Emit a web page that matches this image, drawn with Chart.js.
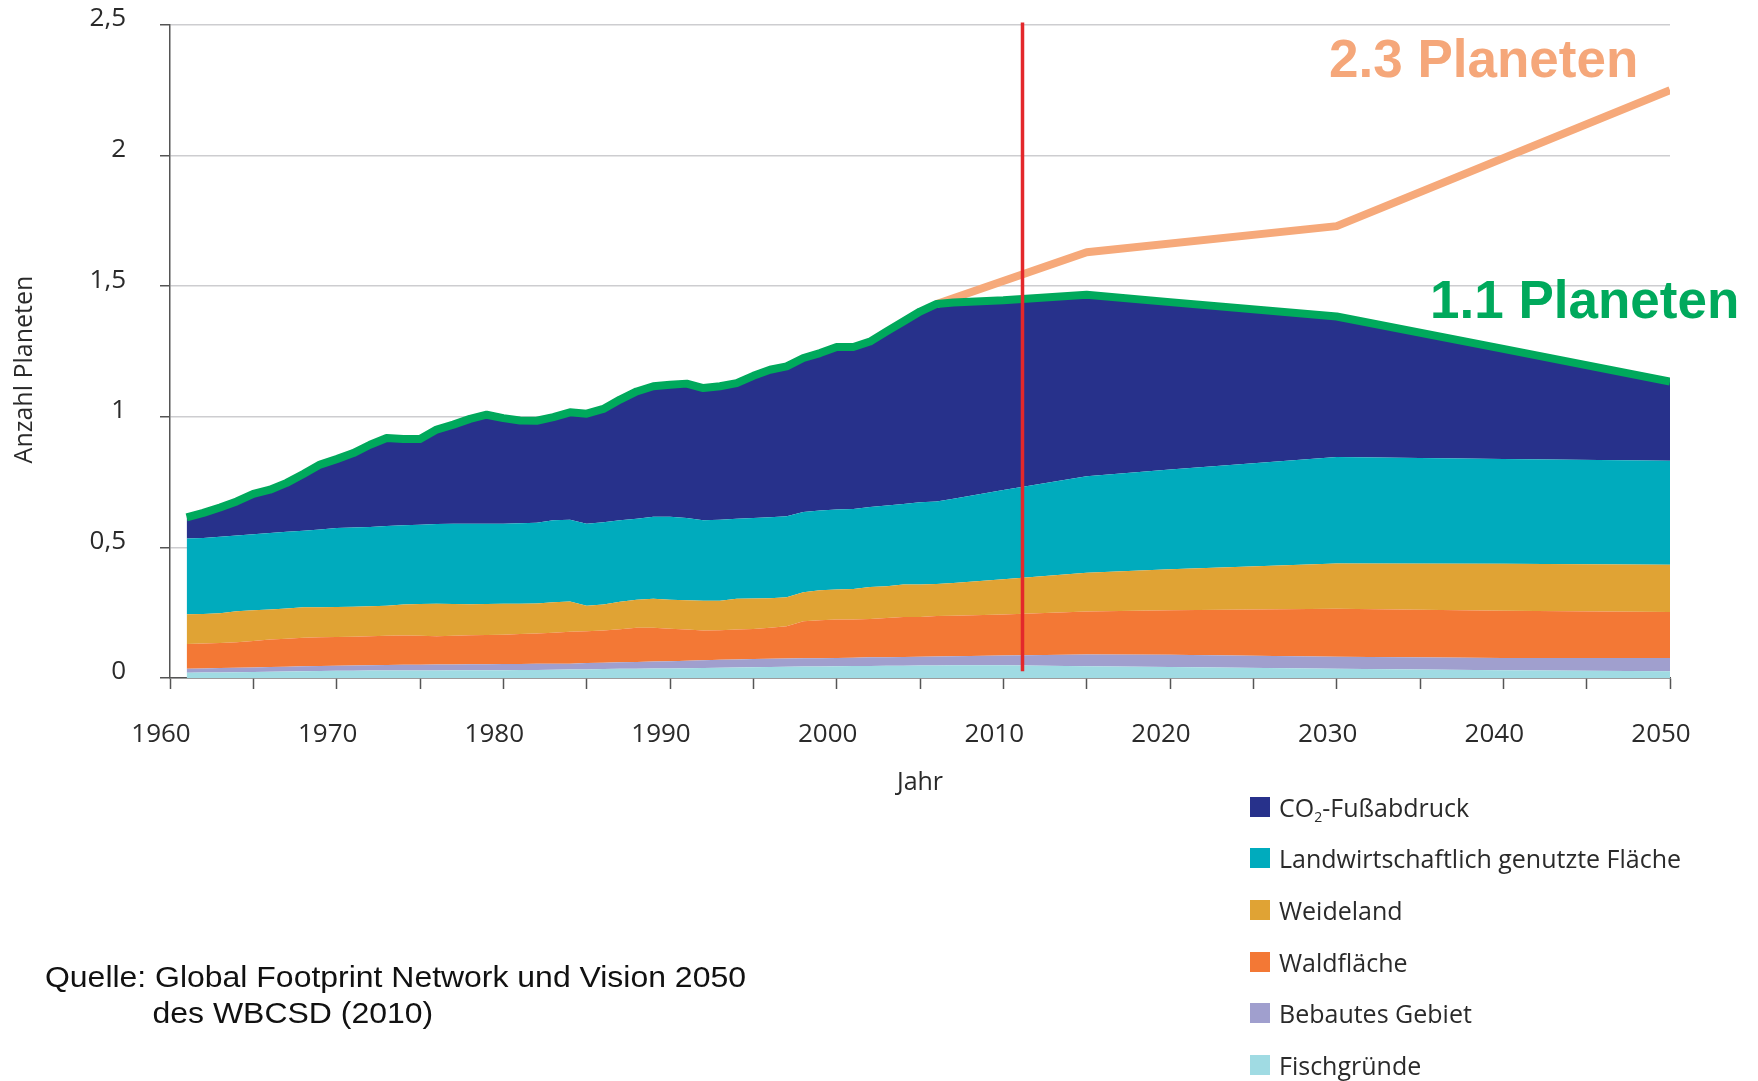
<!DOCTYPE html>
<html>
<head>
<meta charset="utf-8">
<script src="https://cdn.jsdelivr.net/npm/chart.js@4.4.1/dist/chart.umd.min.js"></script>
<style>
html,body{margin:0;padding:0;background:#fff;}
#wrap{position:relative;width:1758px;height:1081px;overflow:hidden;background:#fff;}
#chart{position:absolute;left:0;top:0;}
#legend{position:absolute;left:1250px;top:781px;font-family:'Open Sans',sans-serif;font-size:25px;color:#2a2a2a;}
#legend .item{display:flex;align-items:center;height:51.6px;white-space:nowrap;}
#legend .sw{width:20px;height:20px;margin-right:9px;flex:none;}
#legend sub{font-size:14px;vertical-align:-5px;line-height:0;}
#source{position:absolute;left:45px;top:959px;font-family:'Liberation Sans',Arial,sans-serif;font-size:30px;line-height:36px;color:#111;transform:scaleX(1.065);transform-origin:left top;white-space:nowrap;}
#source .l2{padding-left:101px;}
</style>
</head>
<body>
<div id="wrap">
<canvas id="chart" width="1758" height="1081"></canvas>
<div id="legend"></div>
<div id="source"><div>Quelle: Global Footprint Network und Vision 2050</div><div class="l2">des WBCSD (2010)</div></div>
</div>
<script>
// ---- data ----
const years = [1961,1962,1963,1964,1965,1966,1967,1968,1969,1970,
  1971,1972,1973,1974,1975,1976,1977,1978,1979,1980,
  1981,1982,1983,1984,1985,1986,1987,1988,1989,1990,
  1991,1992,1993,1994,1995,1996,1997,1998,1999,2000,
  2001,2002,2003,2004,2005,2006,2007,
  2010,2015,2020,2030,2040,2050];

const fishing = [.020,.021,.021,.022,.023,.024,.025,.026,.027,.028,
  .028,.029,.029,.029,.029,.029,.030,.030,.030,.030,
  .031,.031,.032,.033,.033,.034,.035,.035,.036,.036,
  .037,.038,.039,.040,.041,.042,.043,.044,.044,.045,
  .046,.046,.047,.047,.048,.048,.049,
  .049,.045,.042,.035,.030,.026];

const builtUp = [.015,.015,.017,.017,.017,.018,.018,.019,.019,.019,
  .020,.020,.021,.022,.022,.023,.022,.023,.023,.024,
  .023,.024,.023,.022,.024,.024,.025,.026,.027,.028,
  .029,.030,.031,.031,.032,.032,.032,.032,.032,.032,
  .032,.033,.032,.033,.033,.034,.034,
  .037,.045,.047,.046,.047,.051];

const forest = [.095,.096,.096,.098,.102,.105,.107,.109,.110,.110,
  .110,.111,.112,.112,.111,.108,.110,.111,.112,.112,
  .114,.115,.118,.122,.122,.124,.127,.131,.129,.125,
  .120,.114,.113,.115,.115,.118,.123,.141,.145,.147,
  .146,.147,.151,.154,.153,.155,.155,
  .157,.165,.170,.184,.180,.176];

const grazing = [.114,.113,.114,.119,.117,.115,.116,.117,.115,.115,
  .115,.115,.115,.118,.121,.124,.121,.118,.118,.118,
  .116,.115,.117,.116,.098,.099,.105,.108,.111,.111,
  .112,.114,.113,.117,.116,.113,.111,.111,.115,.115,
  .117,.122,.121,.124,.124,.123,.126,
  .135,.148,.157,.173,.180,.181];

const cropland = [.290,.291,.293,.290,.291,.293,.294,.293,.298,.302,
  .303,.303,.305,.304,.304,.306,.308,.309,.308,.307,
  .308,.309,.314,.313,.314,.315,.312,.310,.314,.317,
  .315,.308,.310,.307,.309,.310,.310,.308,.305,.306,
  .306,.307,.309,.308,.315,.316,.322,
  .342,.369,.382,.408,.401,.398];

const co2 = [.081,.096,.112,.130,.155,.166,.187,.217,.248,.264,
  .285,.315,.337,.330,.328,.361,.379,.401,.417,.404,
  .394,.391,.395,.411,.421,.434,.462,.487,.500,.506,
  .514,.506,.511,.519,.544,.565,.574,.589,.603,.622,
  .620,.633,.667,.699,.730,.756,.752,
  .726,.695,.641,.538,.422,.303];

const total = [.615,.632,.653,.676,.705,.721,.747,.781,.817,.838,
  .861,.893,.919,.915,.915,.951,.970,.992,1.008,.995,
  .986,.985,.999,1.017,1.012,1.030,1.066,1.097,1.117,1.123,
  1.127,1.110,1.117,1.129,1.157,1.180,1.193,1.225,1.244,1.267,
  1.267,1.288,1.327,1.365,1.403,1.432,1.438,
  1.446,1.467,1.439,1.384,1.260,1.135];

const projYears = [2006, 2015, 2030, 2050];
const projection = [1.432, 1.63, 1.73, 2.25];

const markerYear = 2011.15;
const markerRange = [0.026, 2.51];

const yTicks = [0, 0.5, 1, 1.5, 2, 2.5];
const xRange = [1960, 2050];

const seriesLabels = ['Fischgründe','Bebautes Gebiet','Waldfläche','Weideland','Landwirtschaftlich genutzte Fläche','CO₂-Fußabdruck'];
const seriesData = [fishing, builtUp, forest, grazing, cropland, co2];
const seriesColors = ['#A0DBE3','#A09FCE','#F37835','#E0A334','#00ABBD','#27318B'];

const annotations = [
  {text:'2.3 Planeten', color:'#F5A77A', x:2048.1, y:2.30, align:'right'},
  {text:'1.1 Planeten', color:'#00A95C', x:2035.6, y:1.377, align:'left'}
];

// ---- chart ----
Chart.defaults.font.family = "'Open Sans', sans-serif";
Chart.defaults.color = '#2a2a2a';

const datasets = seriesData.map((arr, i) => ({
  label: seriesLabels[i],
  data: years.map((yr, k) => ({x: yr, y: arr[k]})),
  backgroundColor: seriesColors[i],
  borderColor: seriesColors[i],
  borderWidth: 0,
  pointRadius: 0,
  tension: 0,
  fill: i === 0 ? 'origin' : '-1',
  stack: 'footprint',
  order: 3
}));
datasets.push({
  label: 'Projektion (2.3 Planeten)',
  data: projYears.map((yr, k) => ({x: yr, y: projection[k]})),
  borderColor: '#F6A97A',
  borderWidth: 8,
  pointRadius: 0,
  fill: false,
  tension: 0,
  stack: 'projection',
  order: 2,
  borderJoinStyle: 'round'
});
datasets.push({
  label: 'Gesamt (1.1 Planeten)',
  data: years.map((yr, k) => ({x: yr, y: total[k]})),
  borderColor: '#00A95C',
  borderWidth: 8,
  pointRadius: 0,
  fill: false,
  tension: 0,
  stack: 'total',
  order: 1,
  borderJoinStyle: 'round'
});

const overlay = {
  id: 'overlay',
  afterDatasetsDraw(chart) {
    const {ctx, scales: {x, y}, chartArea} = chart;
    ctx.save();
    // red "today" marker
    const px = x.getPixelForValue(markerYear);
    ctx.strokeStyle = '#E3282B';
    ctx.lineWidth = 3.5;
    ctx.beginPath();
    ctx.moveTo(px, y.getPixelForValue(markerRange[0]));
    ctx.lineTo(px, y.getPixelForValue(markerRange[1]));
    ctx.stroke();
    // annotations
    ctx.font = "bold 53px 'Liberation Sans', Arial, sans-serif";
    ctx.textBaseline = 'alphabetic';
    annotations.forEach(a => {
      ctx.fillStyle = a.color;
      ctx.textAlign = a.align;
      ctx.fillText(a.text, x.getPixelForValue(a.x), y.getPixelForValue(a.y));
    });
    // y axis title
    ctx.fillStyle = '#2a2a2a';
    ctx.font = "25px 'Open Sans', sans-serif";
    ctx.textAlign = 'center';
    ctx.textBaseline = 'middle';
    ctx.translate(25, (chartArea.top + chartArea.bottom) / 2 + 18);
    ctx.rotate(-Math.PI / 2);
    ctx.fillText('Anzahl Planeten', 0, 0);
    ctx.restore();
  }
};

const chart = new Chart(document.getElementById('chart'), {
  type: 'line',
  data: {datasets},
  options: {
    responsive: false,
    animation: false,
    devicePixelRatio: 1,
    layout: {padding: {left: 0, top: 25, right: 88, bottom: 283}},
    plugins: {legend: {display: false}, tooltip: {enabled: false}},
    scales: {
      x: {
        type: 'linear',
        min: xRange[0], max: xRange[1],
        afterFit(s) { s.height = 120; },
        grid: {display: true, drawOnChartArea: false, drawTicks: true, tickLength: 11, tickColor: '#555', tickWidth: 1.5},
        border: {display: true, color: '#555', width: 1.5},
        ticks: {
          stepSize: 5, autoSkip: false, maxRotation: 0, minRotation: 0,
          padding: 30, labelOffset: -9,
          font: {size: 26}, color: '#2a2a2a',
          callback: v => (v % 10 === 0 ? String(v) : '')
        },
        title: {display: true, text: 'Jahr', font: {size: 25}, color: '#2a2a2a', padding: {top: 0, bottom: 0}}
      },
      y: {
        stacked: true,
        min: 0, max: 2.5,
        afterFit(s) { s.width = 170; s.paddingTop = 0; s.paddingBottom = 0; },
        afterBuildTicks(s) { s.ticks = yTicks.map(v => ({value: v})); },
        grid: {display: true, drawOnChartArea: true, drawTicks: true, tickLength: 10, color: '#cdcdd0', lineWidth: 1.5, tickColor: '#555', tickWidth: 1.5},
        border: {display: true, color: '#555', width: 1.5},
        ticks: {
          padding: 34, labelOffset: -6,
          font: {size: 26}, color: '#2a2a2a',
          callback: v => String(v).replace('.', ',')
        }
      }
    }
  },
  plugins: [overlay]
});

// ---- HTML legend built from the datasets ----
const legendEl = document.getElementById('legend');
for (let i = seriesLabels.length - 1; i >= 0; i--) {
  const item = document.createElement('div');
  item.className = 'item';
  const sw = document.createElement('span');
  sw.className = 'sw';
  sw.style.background = seriesColors[i];
  const txt = document.createElement('span');
  txt.innerHTML = seriesLabels[i].replace('₂', '<sub>2</sub>');
  item.appendChild(sw);
  item.appendChild(txt);
  legendEl.appendChild(item);
}
</script>
</body>
</html>
